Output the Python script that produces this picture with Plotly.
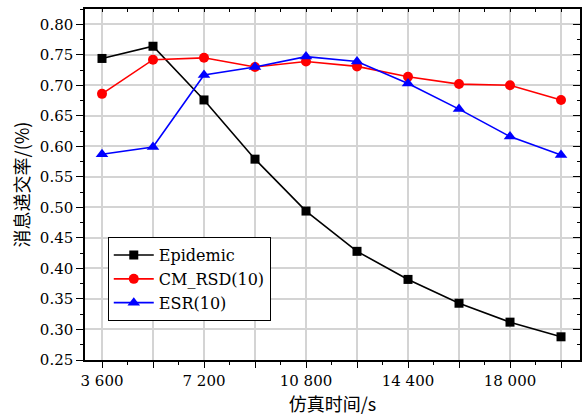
import plotly.graph_objects as go

time_s = [3600, 5400, 7200, 9000, 10800, 12600, 14400, 16200, 18000, 19800]
epidemic = [0.744, 0.764, 0.676, 0.579, 0.494, 0.428, 0.382, 0.343, 0.312, 0.288]
cm_rsd = [0.686, 0.742, 0.745, 0.730, 0.739, 0.731, 0.714, 0.702, 0.700, 0.676]
esr = [0.587, 0.599, 0.717, 0.730, 0.747, 0.739, 0.703, 0.661, 0.616, 0.586]

x_tickvals = [3600, 5400, 7200, 9000, 10800, 12600, 14400, 16200, 18000, 19800]
x_ticktext = ["3 600", "", "7 200", "", "10 800", "", "14 400", "", "18 000", ""]

XR = [3000, 20470]
YR = [0.25, 0.825]
FONT = "DejaVu Serif"
CJK = "Noto Sans CJK SC"

fig = go.Figure()
series = [
    ("Epidemic", epidemic, "#000000", "square", 9),
    ("CM_RSD(10)", cm_rsd, "#ff0000", "circle", 10),
    ("ESR(10)", esr, "#0000ff", "triangle-up", 11),
]
for name, vals, col, sym, sz in series:
    fig.add_trace(go.Scatter(
        x=time_s, y=vals, name=name, mode="lines+markers",
        line=dict(color=col, width=1.6),
        marker=dict(symbol=sym, size=sz, color=col),
    ))

grid = "#d4d4d4"
fig.update_layout(
    width=584, height=418,
    margin=dict(l=85, r=4, t=9, b=58, autoexpand=False),
    paper_bgcolor="white", plot_bgcolor="white",
    font=dict(family=FONT, size=15, color="black"),
    showlegend=True,
    legend=dict(
        x=0.046, y=0.35, xanchor="left", yanchor="top",
        bordercolor="black", borderwidth=1, bgcolor="white",
        font=dict(family=FONT, size=16),
        tracegroupgap=0, itemwidth=40,
    ),
    xaxis=dict(
        range=XR, tickvals=x_tickvals, ticktext=x_ticktext,
        ticks="outside", ticklen=6, tickwidth=1.2, tickcolor="black",
        showgrid=True, gridcolor=grid, gridwidth=1.5,
        showline=True, linecolor="black", linewidth=1.5,
        minor=dict(dtick=900, tick0=3600, ticks="outside", ticklen=3, tickcolor="black", showgrid=False),
        zeroline=False, automargin=False,
        title=dict(text="仿真时间/s", font=dict(family=CJK, size=18), standoff=2),
        tickfont=dict(family=FONT, size=15),
    ),
    yaxis=dict(
        range=YR, dtick=0.05, tick0=0.25, tickformat=".2f",
        ticks="outside", ticklen=7, tickwidth=1.2, tickcolor="black",
        showgrid=True, gridcolor=grid, gridwidth=1.5,
        showline=True, linecolor="black", linewidth=1.5,
        minor=dict(dtick=0.025, tick0=0.25, ticks="outside", ticklen=3, tickcolor="black", showgrid=False),
        zeroline=False, automargin=False,
        title=dict(text="消息递交率/(%)", font=dict(family=CJK, size=18), standoff=6),
        tickfont=dict(family=FONT, size=15),
    ),
    xaxis2=dict(
        overlaying="x", side="top", anchor="y", range=XR,
        tickvals=x_tickvals, ticktext=[""] * len(x_tickvals),
        ticks="inside", ticklen=6, tickwidth=1.2, tickcolor="black",
        showgrid=False, showline=True, linecolor="black", linewidth=1.5,
        minor=dict(dtick=900, tick0=3600, ticks="inside", ticklen=3, tickcolor="black", showgrid=False),
        zeroline=False, showticklabels=False, automargin=False,
    ),
    yaxis2=dict(
        overlaying="y", side="right", anchor="x", range=YR, dtick=0.05, tick0=0.25,
        ticks="inside", ticklen=7, tickwidth=1.2, tickcolor="black",
        showgrid=False, showline=True, linecolor="black", linewidth=1.5,
        minor=dict(dtick=0.025, tick0=0.25, ticks="inside", ticklen=3, tickcolor="black", showgrid=False),
        zeroline=False, showticklabels=False, automargin=False,
    ),
)
fig.add_trace(go.Scatter(x=[time_s[0]], y=[epidemic[0]], xaxis="x2", yaxis="y2",
                         mode="markers", marker=dict(opacity=0), showlegend=False, hoverinfo="skip"))

fig.write_html("out.html", config={"displayModeBar": False},
               post_script="document.body.style.margin='0';")
